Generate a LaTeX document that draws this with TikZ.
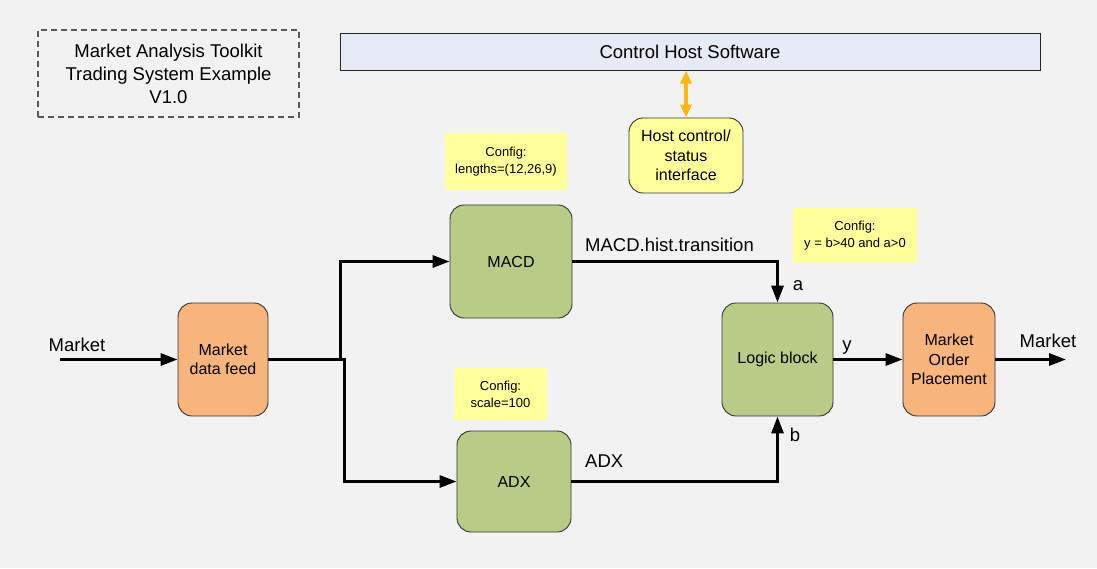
\documentclass[tikz,border=0pt]{standalone}
\usepackage{fontspec}
\setmainfont{Liberation Sans}
\usetikzlibrary{arrows.meta}
\definecolor{bg}{RGB}{242,242,242}
\definecolor{boxgreen}{RGB}{184,204,136}
\definecolor{boxorange}{RGB}{248,180,125}
\definecolor{cfgyellow}{RGB}{255,255,155}
\definecolor{hostblue}{RGB}{230,235,245}
\definecolor{arrorange}{RGB}{255,183,20}
\tikzset{
  blk/.style={draw=black!80, line width=0.9pt, rounded corners=14pt, inner sep=0pt, align=center,
    font=\fontsize{16}{19.5}\selectfont},
  gblk/.style={blk, fill=boxgreen},
  oblk/.style={blk, fill=boxorange},
  cfg/.style={fill=cfgyellow, inner sep=0pt, align=center, font=\fontsize{13}{17}\selectfont},
  lbl/.style={font=\fontsize{18.5}{22}\selectfont, inner sep=0pt},
  conn/.style={line width=3pt, -{Triangle[length=17pt,width=12pt]}},
  plain/.style={line width=3pt},
}
\begin{document}
\begin{tikzpicture}[x=1pt,y=-1pt]
\fill[bg] (0,0) rectangle (1097,568);
\useasboundingbox (0,0) rectangle (1097,568);

% title
\node[draw=black!65, dash pattern=on 6pt off 4pt, line width=1.2pt, minimum width=261pt, minimum height=87pt,
  inner sep=0pt, align=center, font=\fontsize{18.5}{23}\selectfont] (title) at (168.5,73.5)
  {Market Analysis Toolkit\\Trading System Example\\V1.0};

% host software
\node[draw=black!85, line width=1pt, fill=hostblue, minimum width=700pt, minimum height=37pt, inner sep=0pt,
  font=\fontsize{18.5}{22}\selectfont] (chs) at (690,51.5) {Control Host Software};

\node[blk, fill=cfgyellow, minimum width=114pt, minimum height=75pt] (host) at (686,155.5)
  {Host control/\\status\\interface};

\draw[line width=4pt, arrorange, {Triangle[length=13pt,width=11pt]}-{Triangle[length=13pt,width=11pt]}]
  (host.north |- chs.south) -- (host.north);

% configs
\node[cfg, minimum width=122pt, minimum height=57pt] (cfg1) at (506,161.5) {Config:\\lengths=(12,26,9)};
\node[cfg, minimum width=124pt, minimum height=55pt] (cfg2) at (855,235.5) {Config:\\y = b>40 and a>0};
\node[cfg, minimum width=93pt, minimum height=52pt] (cfg3) at (500.5,394) {Config:\\scale=100};

% blocks
\node[oblk, minimum width=90pt, minimum height=113pt] (mdf) at (223,359.5) {Market\\data feed};
\node[gblk, minimum width=122pt, minimum height=113pt] (macd) at (511,261.5) {MACD};
\node[gblk, minimum width=114pt, minimum height=101pt] (adx) at (514,481.5) {ADX};
\node[gblk, minimum width=111pt, minimum height=113pt] (logic) at (777.5,359.5) {Logic block};
\node[oblk, minimum width=92pt, minimum height=113pt] (mop) at (949,359.5) {Market\\Order\\Placement};

% connectors
\coordinate (min) at (60,359.5);
\coordinate (mout) at (1066,359.5);
\coordinate (j1) at (340,359.5);
\coordinate (j2) at (344,359.5);

\draw[conn] (min) -- (mdf.west);
\draw[plain] (mdf.east) -- ([xshift=1.5pt]j2);
\draw[conn] ([yshift=1.5pt]j1) |- (macd.west);
\draw[conn] ([yshift=-1.5pt]j2) |- (adx.west);
\draw[conn] (macd.east) -| (logic.north);
\draw[conn] (adx.east) -| (logic.south);
\draw[conn] (logic.east) -- (mop.west);
\draw[conn] (mop.east) -- (mout);

% labels
\node[lbl, anchor=base] at (77,351) {Market};
\node[lbl, anchor=base] at (1048,347) {Market};
\node[lbl, anchor=base west] at (585,251) {MACD.hist.transition};
\node[lbl, anchor=base west] at (585,467) {ADX};
\node[lbl, anchor=base] at (798,290) {a};
\node[lbl, anchor=base] at (795,441) {b};
\node[lbl, anchor=base] at (847,350) {y};
\end{tikzpicture}
\end{document}
